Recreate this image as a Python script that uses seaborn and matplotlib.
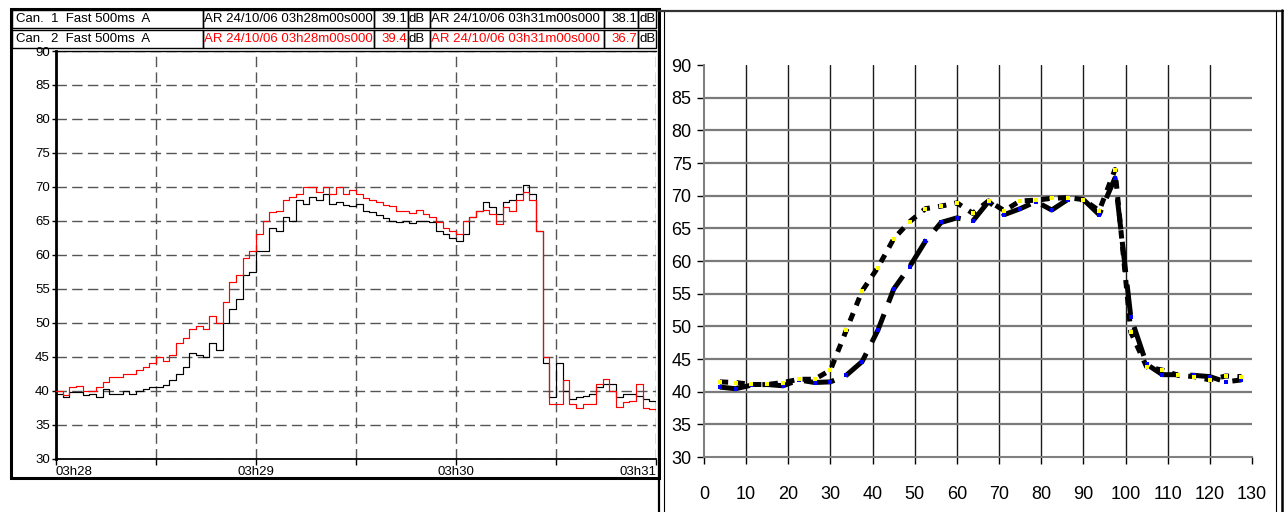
import numpy as np
import pandas as pd
import matplotlib
matplotlib.use("Agg")
import matplotlib.pyplot as plt
import seaborn as sns
from matplotlib.patches import Rectangle
from matplotlib.lines import Line2D

sns.set_theme(style="white")
plt.rcParams['font.family'] = ['Liberation Sans', 'DejaVu Sans']
plt.rcParams['lines.scale_dashes'] = False

# ---------------- data: left panel (sound level meter, 2 channels) ----------------
time_s = np.arange(0, 182, 2)  # seconds after 03h28
level_can1 = [
    39.5, 39.0, 39.8, 39.8, 39.3, 39.5, 39.0, 40.3, 39.5, 39.5,
    40.0, 39.5, 40.0, 40.3, 40.5, 40.5, 40.8, 41.5, 42.5, 43.5,
    45.5, 45.3, 45.0, 47.0, 46.0, 50.0, 52.0, 53.5, 57.0, 57.5,
    60.5, 60.5, 64.0, 63.5, 65.5, 65.0, 68.0, 67.5, 68.5, 68.0,
    69.0, 67.5, 67.8, 67.3, 67.2, 67.5, 66.5, 66.3, 65.8, 65.4,
    65.0, 64.8, 65.0, 64.7, 64.9, 64.9, 64.8, 63.5, 63.0, 62.5,
    62.0, 63.0, 65.5, 66.5, 67.8, 67.0, 66.0, 67.7, 68.0, 69.0,
    70.3, 69.0, 63.5, 44.0, 39.0, 44.0, 40.0, 38.8, 39.0, 39.2,
    39.5, 40.5, 41.0, 41.0, 39.0, 39.5, 39.5, 39.2, 38.8, 38.5,
    38.0,
]
level_can2 = [
    40.0, 39.3, 40.5, 40.7, 40.0, 40.0, 40.5, 41.2, 42.0, 42.0,
    42.5, 42.5, 43.0, 43.5, 44.0, 45.0, 44.3, 45.3, 47.0, 47.8,
    49.0, 49.5, 49.0, 51.0, 50.0, 53.0, 56.0, 57.0, 59.5, 60.5,
    63.0, 65.0, 66.3, 66.5, 68.0, 68.5, 69.0, 70.0, 70.0, 69.3,
    70.0, 69.0, 70.0, 69.0, 69.5, 69.0, 68.3, 68.0, 67.8, 67.3,
    67.2, 66.5, 66.4, 66.2, 66.6, 66.0, 65.6, 64.8, 64.0, 63.5,
    63.0, 65.0, 65.6, 66.5, 66.6, 66.0, 64.5, 67.0, 66.5, 68.0,
    69.3, 68.0, 63.5, 45.0, 38.0, 38.0, 41.5, 38.0, 37.4, 38.0,
    38.0, 41.0, 41.7, 40.0, 37.6, 38.3, 38.5, 41.0, 37.4, 37.3,
    36.8,
]
time_tick_labels = ["03h28", "", "03h29", "", "03h30", "", "03h31"]

channel_labels = ["Can.  1  Fast 500ms  A", "Can.  2  Fast 500ms  A"]
start_stamp = "AR 24/10/06 03h28m00s000"
end_stamp = "AR 24/10/06 03h31m00s000"
start_levels = ["39.1", "39.4"]
end_levels = ["38.1", "36.7"]
row_colors = ["black", "red"]

# ---------------- data: right panel (two reconstructed series) ----------------
x_pts = [3.75, 7.5, 11.25, 15, 18.75, 22.5, 26.25, 30, 33.75, 37.5, 41.25, 45,
         48.75, 52.5, 56.25, 60, 63.75, 67.5, 71.25, 75, 78.75, 82.5, 86.25,
         90, 93.75, 97.5, 101.25, 105, 108.75, 112.5, 116.25, 120, 123.75, 127.5]
yellow_vals = [41.5, 41.4, 41.1, 41.1, 41.4, 41.9, 41.9, 43.3, 49.4, 55.4, 59.0,
               63.4, 66.0, 68.0, 68.4, 68.9, 67.3, 69.2, 67.7, 69.2, 69.3, 69.6,
               69.7, 69.4, 67.7, 74.0, 49.1, 43.8, 43.3, 42.5, 42.3, 41.8, 42.4, 42.3]
blue_vals = [40.7, 40.45, 41.0, 41.1, 40.9, 41.8, 41.4, 41.5, 42.5, 44.6, 49.4,
             55.7, 59.1, 63.0, 65.9, 66.6, 66.1, 69.1, 67.1, 68.0, 69.1, 67.8,
             69.4, 69.4, 67.1, 72.7, 51.4, 44.2, 42.6, 42.6, 42.5, 42.3, 41.5, 41.8]

# ---------------- figure ----------------
W, H = 1285, 512
fig = plt.figure(figsize=(W / 100, H / 100), dpi=100)
fig.patch.set_facecolor("white")


def fx(x):
    return x / W


def fy(y):
    return 1 - y / H


# ---- left panel ----
ax1 = fig.add_axes([fx(56), fy(458.5), (656 - 56) / W, (458.5 - 51) / H])
df_left = pd.DataFrame({"t": time_s, "can1": level_can1, "can2": level_can2})
sns.lineplot(data=df_left, x="t", y="can1", ax=ax1, color="black", lw=0.85,
             drawstyle="steps-post", zorder=3)
sns.lineplot(data=df_left, x="t", y="can2", ax=ax1, color="#ff0000", lw=0.85,
             drawstyle="steps-post", zorder=4)
ax1.set_xlim(0, 180)
ax1.set_ylim(30, 90)
ax1.set_xlabel("")
ax1.set_ylabel("")
ax1.set_facecolor("white")
ax1.set_xticks(np.arange(0, 181, 30), labels=time_tick_labels, fontsize=9.5)
ax1.set_yticks(np.arange(30, 91, 5))
ax1.tick_params(axis="y", labelsize=9.5, length=3, width=1, pad=1.5,
                direction="out", left=True, colors="black")
ax1.tick_params(axis="x", labelsize=9.5, length=4, width=1, pad=1.5,
                direction="out", bottom=True, colors="black")
xl = ax1.get_xticklabels()
xl[0].set_ha("left")
xl[-1].set_ha("right")
ax1.set_axisbelow(True)
ax1.grid(True, color="#555555", linewidth=1.0, linestyle=(0, (7.5, 3.8)))
for side, lw in [("left", 2.0), ("bottom", 1.3), ("top", 1.0)]:
    ax1.spines[side].set_visible(True)
    ax1.spines[side].set_color("black")
    ax1.spines[side].set_linewidth(lw)
ax1.spines["right"].set_visible(False)

# header table
row_tops = [10, 29.5]
row_h = 18
cell_edges = [12, 203, 374, 408, 430, 604, 638, 656]
for r in range(2):
    top = row_tops[r]
    for i in range(len(cell_edges) - 1):
        x0, x1 = cell_edges[i], cell_edges[i + 1]
        fig.add_artist(Rectangle((fx(x0), fy(top + row_h)), (x1 - x0) / W, row_h / H,
                                 transform=fig.transFigure, fill=False,
                                 edgecolor="black", lw=1.0))
    yc = fy(top + row_h / 2 + 0.5)
    fs = 9.5
    fig.text(fx(16), yc, channel_labels[r], ha="left", va="center", fontsize=fs, color="black")
    fig.text(fx(204), yc, start_stamp, ha="left", va="center", fontsize=fs, color=row_colors[r])
    fig.text(fx(407), yc, start_levels[r], ha="right", va="center", fontsize=fs, color=row_colors[r])
    fig.text(fx(408.5), yc, "dB", ha="left", va="center", fontsize=fs, color="black")
    fig.text(fx(431), yc, end_stamp, ha="left", va="center", fontsize=fs, color=row_colors[r])
    fig.text(fx(637), yc, end_levels[r], ha="right", va="center", fontsize=fs, color=row_colors[r])
    fig.text(fx(639), yc, "dB", ha="left", va="center", fontsize=fs, color="black")

# left outer frame
fig.add_artist(Rectangle((fx(11), fy(478)), (659 - 11) / W, (478 - 9) / H,
                         transform=fig.transFigure, fill=False, edgecolor="black", lw=2.2))

# ---- right panel ----
ax2 = fig.add_axes([fx(704), fy(457), (1252 - 704) / W, (457 - 65) / H])
df_right = pd.DataFrame({"x": x_pts, "yellow": yellow_vals, "blue": blue_vals})
sns.lineplot(data=df_right, x="x", y="blue", ax=ax2, color="black", lw=3.6,
             linestyle=(0, (22, 9)), zorder=3)
sns.lineplot(data=df_right, x="x", y="yellow", ax=ax2, color="black", lw=3.6,
             linestyle=(0, (6, 6)), zorder=3)
sns.scatterplot(data=df_right, x="x", y="blue", ax=ax2, color="#0000ff", s=7,
                linewidth=0, marker="s", zorder=5)
sns.scatterplot(data=df_right, x="x", y="yellow", ax=ax2, color="#ffff00", s=7,
                linewidth=0, marker="s", zorder=6)
ax2.set_xlim(0, 130)
ax2.set_ylim(30, 90)
ax2.set_xlabel("")
ax2.set_ylabel("")
ax2.set_facecolor("white")
narrow = ["Liberation Sans Narrow", "Liberation Sans", "DejaVu Sans"]
xt = np.arange(0, 131, 10)
yt = np.arange(30, 91, 5)
ax2.set_xticks(xt, labels=[str(v) for v in xt], fontfamily=narrow, fontsize=13)
ax2.set_yticks(yt, labels=[str(v) for v in yt], fontfamily=narrow, fontsize=13)
ax2.set_xticks(np.arange(10, 121, 10), minor=True)
ax2.set_yticks(np.arange(35, 86, 5), minor=True)
ax2.xaxis.remove_overlapping_locs = False
ax2.yaxis.remove_overlapping_locs = False
ax2.tick_params(which="minor", length=0)
ax2.tick_params(axis="y", which="major", length=5, width=1, pad=4, direction="out",
                left=True, colors="black")
ax2.tick_params(axis="x", which="major", length=5, width=1, pad=16, direction="out",
                bottom=True, colors="black")
ax2.grid(False, which="major")
ax2.grid(True, which="minor", axis="y", color="#7a7a7a", linewidth=1.6)
ax2.grid(True, which="minor", axis="x", color="#1a1a1a", linewidth=1.0)
ax2.set_axisbelow(True)
for side in ["left", "bottom"]:
    ax2.spines[side].set_visible(True)
    ax2.spines[side].set_color("#808080")
    ax2.spines[side].set_linewidth(1.5)
for side in ["top", "right"]:
    ax2.spines[side].set_visible(False)

# right panel frame lines
frame_lines = [
    ([658.5, 658.5], [9, 512], 1.6, "black"),
    ([664, 664], [11, 512], 0.8, "black"),
    ([658, 1283], [10.5, 10.5], 1.6, "#333333"),
    ([1276, 1276], [11, 512], 0.8, "black"),
    ([1281.5, 1281.5], [10, 512], 1.8, "black"),
]
for xs, ys, lw, c in frame_lines:
    fig.add_artist(Line2D([fx(v) for v in xs], [fy(v) for v in ys],
                          transform=fig.transFigure, lw=lw, color=c))

fig.savefig("out.png", dpi=100, facecolor="white")
